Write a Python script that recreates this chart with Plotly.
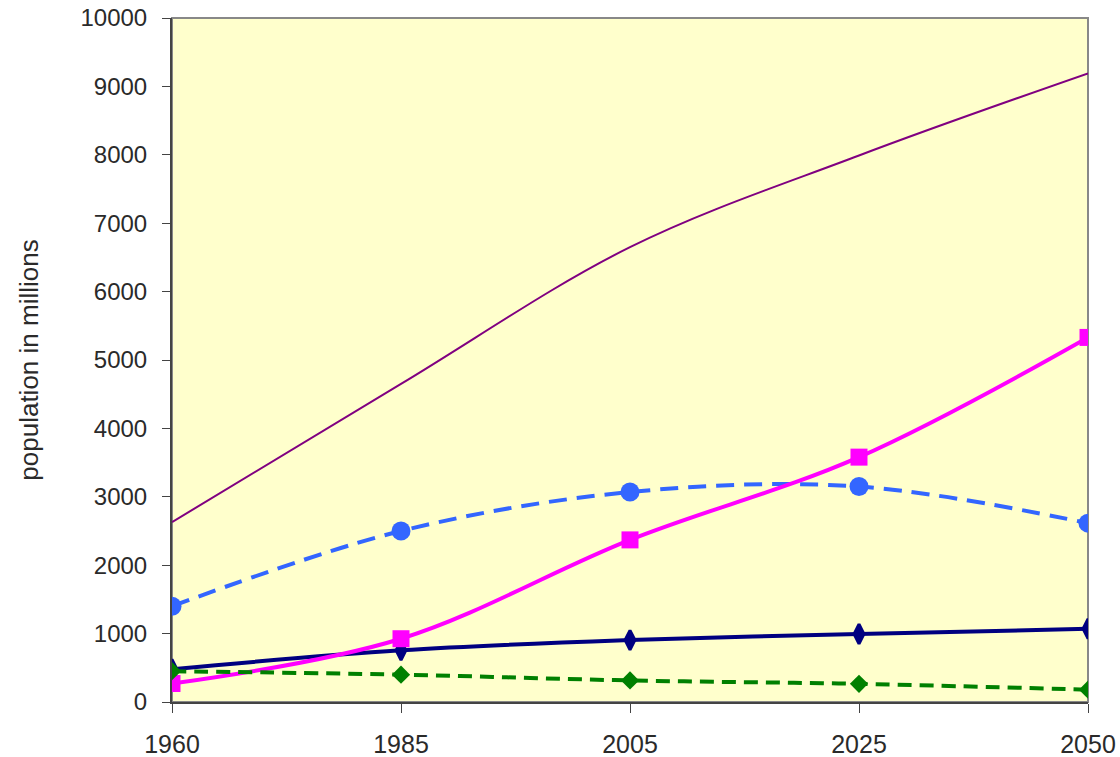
import plotly.graph_objects as go

years = ["1960", "1985", "2005", "2025", "2050"]
total = [2630, 4650, 6650, 7990, 9190]
series_magenta = [270, 925, 2370, 3580, 5330]
series_blue = [1400, 2500, 3070, 3150, 2615]
series_navy = [480, 755, 905, 995, 1070]
series_green = [450, 400, 315, 265, 180]
y_ticks = [0, 1000, 2000, 3000, 4000, 5000, 6000, 7000, 8000, 9000, 10000]

fig = go.Figure()

fig.add_trace(go.Scatter(x=years, y=total, mode="lines", name="total",
                         line=dict(color="#800080", width=2, shape="spline", smoothing=1)))
fig.add_trace(go.Scatter(x=years, y=series_blue, mode="lines+markers", name="blue",
                         line=dict(color="#3366FF", width=4, dash="18px,10px", shape="spline", smoothing=1),
                         marker=dict(symbol="circle", size=19, color="#3366FF")))
fig.add_trace(go.Scatter(x=years, y=series_navy, mode="lines+markers", name="navy",
                         line=dict(color="#000080", width=4, shape="spline", smoothing=1),
                         marker=dict(symbol="diamond-tall", size=14, color="#000080",
                                     line=dict(color="#000080", width=3))))
fig.add_trace(go.Scatter(x=years, y=series_magenta, mode="lines+markers", name="magenta",
                         line=dict(color="#FF00FF", width=4, shape="spline", smoothing=1),
                         marker=dict(symbol="square", size=17, color="#FF00FF")))
fig.add_trace(go.Scatter(x=years, y=series_green, mode="lines+markers", name="green",
                         line=dict(color="#008000", width=4, dash="14px,8px", shape="spline", smoothing=1),
                         marker=dict(symbol="diamond", size=14, color="#008000")))

# plot-area border (top/right in lighter grey)
fig.add_shape(type="rect", xref="paper", yref="paper", x0=0, y0=0, x1=1, y1=1,
              line=dict(color="#888888", width=2), layer="below")

fig.update_layout(
    width=1120, height=757,
    margin=dict(l=172, r=32, t=18, b=55),
    paper_bgcolor="white",
    plot_bgcolor="#FFFFCC",
    showlegend=False,
    font=dict(family="Liberation Sans, Arial, sans-serif", color="#333333"),
)
fig.update_xaxes(
    type="category", range=[0, 4], automargin=False,
    showgrid=False, zeroline=False,
    showline=True, linecolor="#444444", linewidth=2,
    ticks="outside", ticklen=9, tickcolor="#444444", tickwidth=1,
    ticklabelstandoff=10,
    tickfont=dict(size=25, color="#2a2a2a"),
)
fig.update_yaxes(
    range=[0, 10000], tickvals=y_ticks, ticktext=[str(v) for v in y_ticks],
    automargin=False, ticklabeloverflow="allow",
    showgrid=False, zeroline=False,
    showline=True, linecolor="#444444", linewidth=2,
    ticks="outside", ticklen=8, tickcolor="#444444", tickwidth=1,
    ticklabelstandoff=10,
    tickfont=dict(size=24, color="#2a2a2a"),
    title=dict(text="population in millions", font=dict(size=26, color="#2a2a2a"), standoff=34),
)

fig.write_html("out.html", config={"displayModeBar": False},
               post_script="document.body.style.margin='0';")
